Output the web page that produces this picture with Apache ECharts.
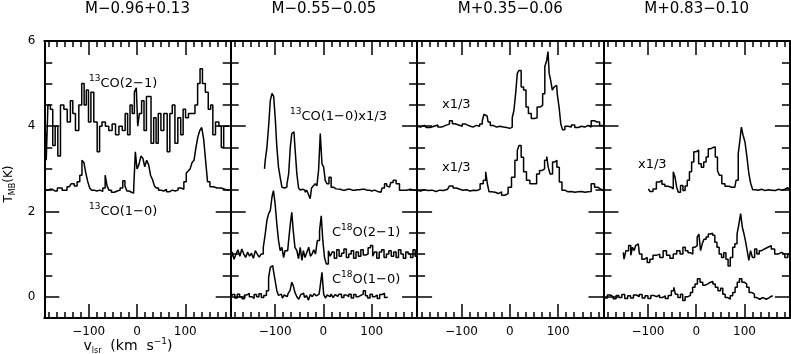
<!DOCTYPE html>
<html>
<head>
<meta charset="utf-8">
<script src="https://cdn.jsdelivr.net/npm/echarts@6.0.0/dist/echarts.min.js"></script>
<style>
  html, body { margin: 0; padding: 0; background: #fff; }
  #chart { width: 791px; height: 354px; }
</style>
</head>
<body>
<div id="chart"></div>
<script>
var FONT = 'DejaVu Sans';

// panel titles and tick labels
var panelNames = ['M\u22120.96+0.13', 'M\u22120.55\u22120.05', 'M+0.35\u22120.06', 'M+0.83\u22120.10'];
var xTicks = [-100, 0, 100];
var yTicks = [0, 2, 4, 6];

// spectra as [v_lsr, T_MB] with the offsets used in the plot
var p1CO21 = [[-190,4.0],[-186,3.2],[-183,4.5],[-176,4.4],[-173,3.55],[-166,4.0],[-162,3.3],[-155,4.5],[-148,4.4],[-141,4.1],[-135,4.6],[-131,4.3],[-124,3.9],[-117,4.5],[-112,5.0],[-107,4.5],[-103,4.85],[-98,4.1],[-93,4.8],[-86,4.1],[-79,3.4],[-76,4.0],[-69,4.1],[-62,4.0],[-55,3.9],[-48,4.05],[-41,3.8],[-34,4.0],[-27,3.9],[-22,4.3],[-17,3.8],[-12,4.5],[-8,4.3],[-3,4.8],[0,4.9],[3,4.0],[7,4.3],[12,4.6],[17,3.9],[22,4.7],[27,4.7],[31,3.6],[38,4.2],[41,3.6],[47,4.3],[52,3.9],[59,4.3],[66,3.4],[70,4.3],[76,4.5],[81,3.6],[88,4.2],[93,3.8],[98,4.4],[103,4.2],[110,4.3],[117,4.3],[123,4.5],[128,5.0],[133,5.35],[138,5.0],[145,4.8],[150,4.4],[155,4.5],[159,3.8],[166,4.1],[173,4.0],[176,3.5],[183,4.0],[190,4.0]];
var p1CO10 = [[-190,2.5],[-180,2.52],[-170,2.48],[-160,2.55],[-150,2.5],[-140,2.58],[-133,2.65],[-127,2.6],[-121,2.7],[-116,2.85],[-112,3.2],[-108,3.15],[-104,2.9],[-100,2.7],[-96,2.55],[-92,2.5],[-86,2.48],[-80,2.5],[-74,2.47],[-68,2.55],[-64,2.85],[-60,2.6],[-56,2.5],[-50,2.45],[-44,2.48],[-38,2.5],[-32,2.55],[-27,2.72],[-23,2.6],[-19,2.48],[-14,2.45],[-9,2.43],[-5,2.5],[-2,3.4],[2,3.0],[6,3.1],[10,3.3],[14,3.25],[18,3.05],[22,3.2],[26,3.1],[30,2.85],[34,2.75],[38,2.6],[42,2.55],[47,2.5],[52,2.48],[58,2.52],[64,2.46],[70,2.5],[76,2.48],[82,2.5],[88,2.55],[94,2.52],[100,2.7],[104,2.9],[108,2.95],[112,3.0],[116,3.15],[120,3.2],[124,3.5],[128,3.75],[132,3.9],[136,3.97],[140,3.7],[144,3.2],[148,2.7],[154,2.58],[162,2.55],[170,2.55],[178,2.52],[186,2.5],[192,2.5]];

var p2CO10 = [[-122,3.0],[-119,3.2],[-115,3.5],[-112,4.0],[-108,4.6],[-105,4.77],[-101,4.7],[-98,4.14],[-95,3.52],[-91,3.04],[-88,2.8],[-84,2.57],[-80,2.55],[-77,2.58],[-74,2.65],[-70,2.88],[-67,3.52],[-64,3.83],[-61,3.87],[-57,3.52],[-53,2.88],[-50,2.55],[-46,2.5],[-43,2.52],[-40,2.5],[-36,2.45],[-33,2.5],[-29,2.4],[-26,2.3],[-23,2.55],[-19,2.6],[-15,2.65],[-12,2.6],[-8,2.97],[-5,3.83],[-1,3.12],[2,3.04],[5.5,2.73],[9,2.65],[14,2.8],[18,2.57],[23,2.53],[30,2.52],[40,2.5],[50,2.52],[60,2.5],[70,2.51],[80,2.52],[90,2.5],[100,2.48],[106,2.5],[112,2.47],[119,2.45],[124,2.55],[129,2.65],[133,2.6],[137,2.57],[142,2.68],[147,2.73],[154,2.65],[161,2.5],[168,2.5],[176,2.52],[184,2.5],[192,2.5]];
var p2C18O21 = [[-191,0.9],[-187,1.05],[-183,0.88],[-179,1.0],[-175,1.1],[-171,0.95],[-167,1.12],[-163,1.0],[-159,0.92],[-155,1.05],[-151,0.95],[-147,1.02],[-143,0.9],[-139,1.08],[-135,1.0],[-131,0.93],[-127,1.0],[-122,1.16],[-119,1.47],[-115,1.79],[-112,1.95],[-108,2.02],[-105,2.34],[-102,2.49],[-98,2.18],[-95,1.71],[-91,1.32],[-88,1.08],[-84,1.16],[-81,0.92],[-78,1.08],[-74,1.08],[-70,1.32],[-67,1.71],[-64,1.98],[-61,1.55],[-57,1.16],[-53,1.08],[-50,0.89],[-46,1.16],[-43,0.85],[-40,1.08],[-36,0.92],[-32,1.05],[-29,1.16],[-25,0.95],[-22,1.0],[-18,1.1],[-15,1.0],[-10,1.32],[-6,1.55],[-3,1.9],[0.5,1.32],[4,0.92],[8,0.77],[12.5,1.08],[16,0.95],[20,1.05],[25,0.9],[30,1.1],[35,0.95],[40,1.02],[45,1.12],[50,0.92],[55,1.0],[60,1.08],[65,0.9],[70,1.05],[75,0.95],[80,1.1],[85,0.98],[90,1.0],[95,1.15],[100,1.2],[104,0.95],[108,1.05],[113,0.9],[118,1.05],[123,1.1],[128,0.92],[133,1.0],[138,1.08],[143,0.95],[148,1.05],[153,0.92],[158,1.1],[163,1.0],[168,0.9],[173,1.05],[178,1.0],[183,0.92],[188,1.1],[192,0.95]];
var p2C18O10 = [[-191,0.0],[-186,0.05],[-181,-0.03],[-176,0.06],[-171,0.0],[-166,-0.05],[-161,0.04],[-156,0.08],[-151,0.0],[-146,-0.04],[-141,0.05],[-136,0.0],[-131,0.07],[-126,-0.02],[-121,0.03],[-115,0.14],[-112,0.45],[-108,0.69],[-105,0.73],[-102,0.61],[-98,0.38],[-95,0.14],[-91,0.03],[-87,0.06],[-83,-0.03],[-79,0.04],[-75,0.0],[-71,0.08],[-67,0.15],[-64,0.34],[-61,0.26],[-57,0.1],[-53,0.0],[-49,-0.06],[-45,0.05],[-41,0.08],[-37,-0.02],[-33,0.03],[-29,-0.08],[-25,0.05],[-21,0.0],[-17,0.07],[-13,0.02],[-9,0.06],[-5,0.22],[-1,0.57],[2,0.06],[6,-0.03],[10,0.04],[14,0.0],[18,0.06],[22,-0.02],[26,0.05],[30,0.01],[35,0.06],[40,-0.02],[45,0.04],[50,0.0],[55,0.06],[60,-0.03],[65,0.05],[70,0.0],[75,0.03],[80,0.06],[85,0.14],[89,0.02],[94,-0.03],[99,0.06],[104,0.0],[109,0.04],[114,-0.04],[119,0.05],[124,0.08],[129,-0.02],[133,0.0]];

var p3Upper = [[-193,4.0],[-185,3.98],[-177,4.02],[-169,3.97],[-161,4.0],[-153,4.03],[-145,3.98],[-137,4.02],[-129,4.05],[-121,4.13],[-117,4.06],[-110,4.03],[-102,4.0],[-95,4.05],[-88,4.01],[-80,3.98],[-73,4.02],[-66,4.0],[-59,4.05],[-55,4.13],[-52,4.28],[-47,4.24],[-43,4.1],[-38,4.02],[-31,3.98],[-24,4.0],[-17,3.98],[-10,3.97],[-3,3.95],[3,3.98],[7,4.2],[10,4.37],[14,4.76],[17,5.24],[21,5.31],[26,4.92],[31,4.85],[36,4.45],[41,4.3],[48,4.18],[54,4.2],[59,4.45],[66,4.49],[70,4.76],[75,5.4],[78,5.55],[80,5.75],[83,5.24],[86,5.08],[90,4.85],[93,4.92],[97,4.96],[100,4.73],[104,4.45],[107,4.06],[111,3.92],[117,4.0],[124,3.98],[131,4.03],[138,3.97],[145,4.0],[152,3.98],[159,4.02],[165,3.98],[172,4.13],[178,4.1],[183,4.1],[189,4.02],[194,4.0]];
var p3Lower = [[-193,2.5],[-185,2.48],[-177,2.51],[-169,2.49],[-161,2.5],[-153,2.47],[-145,2.5],[-137,2.49],[-129,2.52],[-121,2.6],[-114,2.55],[-107,2.52],[-100,2.5],[-93,2.51],[-86,2.48],[-79,2.5],[-72,2.49],[-65,2.52],[-58,2.65],[-52,2.73],[-48,2.93],[-45,2.65],[-41,2.46],[-34,2.45],[-27,2.42],[-20,2.46],[-14,2.38],[-7,2.42],[0,2.57],[7,2.8],[14,3.2],[17,3.43],[21,3.55],[26,3.27],[31,2.93],[38,2.73],[45,2.65],[52,2.65],[59,2.88],[64,2.96],[69,3.0],[75,3.2],[78,3.29],[81,3.04],[86,2.88],[91,3.16],[95,3.2],[100,3.04],[105,2.69],[111,2.5],[117,2.46],[124,2.47],[131,2.45],[138,2.46],[145,2.47],[152,2.45],[159,2.46],[165,2.47],[172,2.65],[179,2.57],[185,2.53],[190,2.5],[194,2.48]];

var p4Upper = [[-99,2.53],[-93,2.47],[-86,2.53],[-79,2.69],[-74,2.73],[-68,2.64],[-62,2.59],[-55,2.57],[-49,2.53],[-46,2.93],[-42,2.81],[-39,2.57],[-35,2.45],[-30,2.61],[-25,2.49],[-21,2.6],[-16,2.73],[-12,2.93],[-7,3.16],[-3,3.4],[2,3.44],[8,3.12],[13,3.04],[18,3.16],[23,3.28],[27,3.47],[32,3.5],[37,3.51],[42,3.28],[46,2.96],[50,2.85],[56,2.65],[63,2.59],[73,2.57],[80,2.57],[85,2.73],[89,3.36],[92,3.67],[95,3.98],[99,3.79],[103,3.63],[107,3.28],[111,2.89],[115,2.65],[119,2.51],[125,2.5],[132,2.52],[139,2.49],[146,2.51],[153,2.5],[160,2.49],[167,2.52],[174,2.5],[181,2.52],[186,2.56],[192,2.52]];
var p4Middle = [[-151,1.04],[-148,0.88],[-143,1.08],[-137,1.2],[-134,0.97],[-130,1.16],[-127,1.08],[-124,1.2],[-120,1.24],[-115,1.0],[-110,0.88],[-104,0.92],[-99,0.8],[-93,0.88],[-86,0.97],[-79,1.0],[-72,0.92],[-65,1.08],[-58,0.97],[-51,0.9],[-44,1.0],[-37,1.08],[-30,1.0],[-25,1.16],[-20,1.08],[-14,1.03],[-9,1.0],[-5,1.16],[0,1.2],[4,1.4],[7,1.47],[11,1.08],[14,1.24],[18,1.35],[23,1.4],[27,1.47],[32,1.49],[36,1.44],[41,1.28],[45,1.16],[50,1.0],[55,0.92],[59,1.03],[64,0.88],[68,0.72],[73,0.92],[78,1.16],[82,1.24],[87,1.47],[90,1.71],[94,1.95],[97,1.63],[101,1.47],[104,1.28],[107,1.08],[111,0.85],[114,1.08],[119,0.92],[123,1.12],[128,1.0],[133,1.08],[138,1.12],[145,1.16],[152,1.2],[159,1.12],[166,1.0],[173,1.04],[180,1.0],[187,0.92],[192,1.0]];
var p4Lower = [[-193,0.02],[-187,-0.03],[-181,0.04],[-175,0.0],[-169,-0.05],[-163,0.03],[-157,-0.02],[-151,0.05],[-145,-0.04],[-139,0.02],[-133,-0.03],[-127,0.04],[-121,0.0],[-115,0.05],[-109,-0.03],[-103,0.02],[-97,-0.04],[-91,0.03],[-85,0.0],[-79,0.04],[-73,-0.02],[-67,0.02],[-61,-0.04],[-55,0.03],[-48,0.14],[-45,0.22],[-41,0.06],[-35,-0.02],[-30,0.06],[-26,-0.09],[-20,0.0],[-14,0.03],[-10,0.1],[-5,0.22],[0,0.3],[5,0.42],[11,0.34],[16,0.27],[21,0.3],[27,0.34],[32,0.36],[37,0.3],[42,0.22],[48,0.14],[53,0.2],[57,0.06],[63,-0.02],[68,-0.06],[73,0.02],[78,0.1],[83,0.22],[87,0.34],[92,0.42],[97,0.34],[102,0.3],[107,0.22],[112,0.1],[118,0.06],[123,-0.02],[128,-0.06],[135,-0.02],[142,-0.06],[148,-0.02],[155,0.02],[158,0.0]];

var spectra = [
  [0, p1CO21], [0, p1CO10],
  [1, p2CO10], [1, p2C18O21], [1, p2C18O10],
  [2, p3Upper], [2, p3Lower],
  [3, p4Upper], [3, p4Middle], [3, p4Lower]
];

var chart = echarts.init(document.getElementById('chart'));

var xMin = -192, xMax = 194, yMin = -0.5, yMax = 6;
var gLeft = 44.3, gWidth = 186.4, gTop = 41, gHeight = 277;

// minor tick positions every 100/6 km/s and every 0.5 K
var xMinor = [];
for (var k = -11; k <= 11; k++) {
  var v = k * 100 / 6;
  if (k % 6 !== 0 && v > xMin && v < xMax) xMinor.push(v);
}
var yMinor = [];
for (var j = 1; j <= 12; j++) {
  if (j % 4 !== 0) yMinor.push(j / 2);
}

function minus(v) { return String(v).replace('-', '\u2212'); }

var lineStyle = { color: '#000', width: 2 };
var tickStyle = { color: '#000', width: 1.5 };

var grids = [], xAxes = [], yAxes = [];
for (var i = 0; i < 4; i++) {
  grids.push({ left: gLeft + i * gWidth, top: gTop, width: gWidth, height: gHeight });
  ['bottom', 'top'].forEach(function (pos) {
    xAxes.push({
      gridIndex: i, type: 'value', position: pos, min: xMin, max: xMax,
      axisLine: { show: true, onZero: false, lineStyle: lineStyle },
      axisTick: { show: true, inside: true, length: 14, customValues: xTicks, lineStyle: tickStyle },
      axisLabel: {
        show: pos === 'bottom', customValues: xTicks, margin: 8, color: '#000',
        fontFamily: FONT, fontSize: 12, formatter: minus
      },
      splitLine: { show: false }
    });
    xAxes.push({
      gridIndex: i, type: 'value', position: pos, min: xMin, max: xMax,
      axisLine: { show: false, onZero: false },
      axisTick: { show: true, inside: true, length: 6, customValues: xMinor, lineStyle: tickStyle },
      axisLabel: { show: false },
      splitLine: { show: false }
    });
  });
  ['left', 'right'].forEach(function (pos) {
    yAxes.push({
      gridIndex: i, type: 'value', position: pos, min: yMin, max: yMax,
      axisLine: { show: true, onZero: false, lineStyle: lineStyle },
      axisTick: { show: true, inside: true, length: 15, customValues: yTicks, lineStyle: tickStyle },
      axisLabel: {
        show: i === 0 && pos === 'left', customValues: yTicks, margin: 9, color: '#000',
        fontFamily: FONT, fontSize: 12
      },
      splitLine: { show: false }
    });
    yAxes.push({
      gridIndex: i, type: 'value', position: pos, min: yMin, max: yMax,
      axisLine: { show: false, onZero: false },
      axisTick: { show: true, inside: true, length: 8, customValues: yMinor, lineStyle: tickStyle },
      axisLabel: { show: false },
      splitLine: { show: false }
    });
  });
}

var series = spectra.map(function (s) {
  return {
    type: 'line', xAxisIndex: s[0] * 4, yAxisIndex: s[0] * 4,
    data: s[1], step: 'middle', symbol: 'none', silent: true,
    lineStyle: { color: '#000', width: 1.5 }
  };
});

var rich = {
  sup: { fontFamily: FONT, fontSize: 9, lineHeight: 10, verticalAlign: 'top', fill: '#000' },
  sub: { fontFamily: FONT, fontSize: 8, lineHeight: 8, verticalAlign: 'bottom', fill: '#000' }
};

function label(x, y, text) {
  return {
    type: 'text', x: x, y: y, silent: true,
    style: {
      text: text, fill: '#000', fontFamily: FONT, fontSize: 13, lineHeight: 20,
      textAlign: 'left', textVerticalAlign: 'middle', rich: rich
    }
  };
}

var texts = [
  label(89, 84, '{sup|13}CO(2\u22121)'),
  label(89, 212, '{sup|13}CO(1\u22120)'),
  label(290, 117, '{sup|13}CO(1\u22120)x1/3'),
  label(332, 233, 'C{sup|18}O(2\u22121)'),
  label(332, 280, 'C{sup|18}O(1\u22120)'),
  label(442, 105, 'x1/3'),
  label(442, 168, 'x1/3'),
  label(638, 165, 'x1/3')
];

panelNames.forEach(function (name, i) {
  texts.push({
    type: 'text', x: gLeft + (i + 0.5) * gWidth, y: 9, silent: true,
    style: { text: name, fill: '#000', fontFamily: FONT, fontSize: 15, textAlign: 'center', textVerticalAlign: 'middle' }
  });
});

// axis titles
texts.push({
  type: 'text', x: 9, y: 184, rotation: Math.PI / 2, silent: true,
  style: {
    text: 'T{sub|MB}(K)', fill: '#000', fontFamily: FONT, fontSize: 12, lineHeight: 16,
    textAlign: 'center', textVerticalAlign: 'middle', rich: rich
  }
});
texts.push({
  type: 'text', x: 128, y: 346, silent: true,
  style: {
    text: 'v{sub|lsr}  (km  s{sup|\u22121})', fill: '#000', fontFamily: FONT, fontSize: 14, lineHeight: 18,
    textAlign: 'center', textVerticalAlign: 'middle', rich: rich
  }
});

chart.setOption({
  animation: false,
  grid: grids,
  xAxis: xAxes,
  yAxis: yAxes,
  series: series,
  graphic: texts
});
</script>
</body>
</html>
